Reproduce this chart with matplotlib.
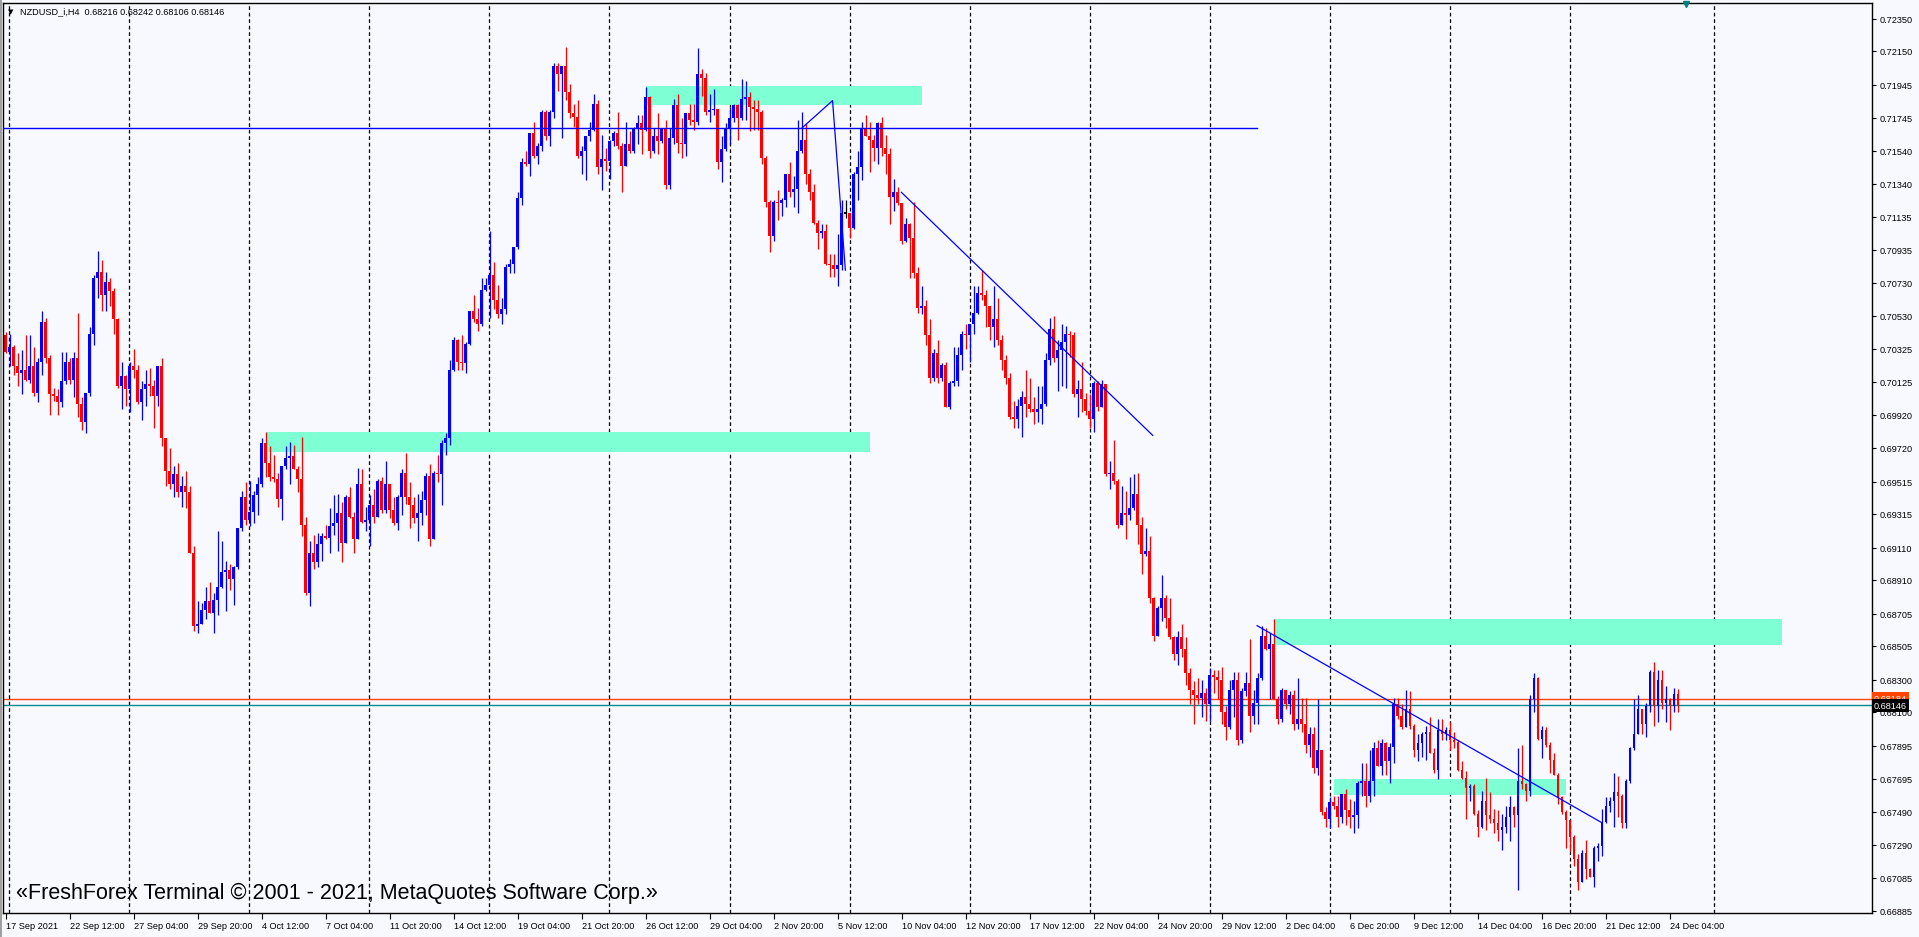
import numpy as np
import matplotlib.pyplot as plt
from matplotlib.transforms import blended_transform_factory

plt.rcParams['font.family'] = ['Liberation Sans', 'DejaVu Sans']

# NZDUSD H4 bars, values in pips (price * 10000) left to right
first_open = 7041
closes = [
    7031, 7034, 7022, 7018, 7020, 7014, 7022, 7006, 7025, 7049, 7027, 7005, 7004, 7000, 7013, 7025, 7014, 7027, 6999, 6988,
    7006, 7042, 7076, 7080, 7066, 7074, 7068, 7051, 7010, 7016, 7008, 7022, 7020, 7000, 7008, 7011, 7010, 7004, 7022, 6978,
    6958, 6950, 6956, 6945, 6949, 6945, 6908, 6863, 6864, 6873, 6878, 6871, 6879, 6887, 6896, 6897, 6892, 6899, 6923, 6942,
    6928, 6933, 6943, 6950, 6975, 6963, 6954, 6953, 6941, 6961, 6966, 6967, 6959, 6953, 6925, 6883, 6908, 6902, 6913, 6918,
    6917, 6924, 6926, 6932, 6914, 6942, 6930, 6916, 6950, 6927, 6928, 6937, 6930, 6952, 6934, 6950, 6934, 6926, 6942, 6957,
    6942, 6937, 6929, 6932, 6940, 6955, 6916, 6957, 6956, 6975, 6978, 7020, 7038, 7025, 7024, 7036, 7056, 7051, 7048, 7069,
    7072, 7078, 7063, 7054, 7057, 7083, 7085, 7095, 7125, 7147, 7146, 7165, 7151, 7157, 7178, 7163, 7178, 7206, 7201, 7206,
    7190, 7177, 7175, 7151, 7154, 7163, 7167, 7183, 7144, 7149, 7148, 7160, 7165, 7157, 7145, 7158, 7154, 7168, 7171, 7167,
    7187, 7154, 7163, 7160, 7168, 7133, 7162, 7182, 7159, 7158, 7177, 7173, 7172, 7201, 7199, 7178, 7179, 7180, 7147, 7155,
    7168, 7174, 7182, 7174, 7186, 7187, 7181, 7180, 7178, 7150, 7123, 7102, 7123, 7122, 7124, 7140, 7129, 7131, 7154, 7161,
    7140, 7129, 7110, 7104, 7105, 7085, 7084, 7082, 7084, 7116, 7116, 7107, 7140, 7144, 7168, 7163, 7161, 7156, 7171, 7156,
    7152, 7126, 7129, 7122, 7099, 7109, 7101, 7079, 7058, 7059, 7041, 7015, 7030, 7015, 7023, 6997, 7012, 7013, 7029, 7042,
    7041, 7048, 7055, 7067, 7066, 7059, 7046, 7051, 7038, 7026, 7015, 6991, 6990, 6998, 7003, 6999, 6996, 6994, 6996, 6999,
    7026, 7045, 7027, 7032, 7037, 7042, 7041, 7005, 7008, 7002, 6995, 6990, 7012, 6997, 7011, 6956, 6957, 6952, 6925, 6932,
    6931, 6935, 6944, 6925, 6907, 6909, 6880, 6857, 6874, 6880, 6868, 6856, 6846, 6856, 6849, 6834, 6824, 6821, 6819, 6822,
    6815, 6833, 6832, 6830, 6810, 6801, 6824, 6830, 6793, 6823, 6828, 6808, 6816, 6831, 6857, 6849, 6852, 6818, 6806, 6824,
    6815, 6821, 6803, 6806, 6803, 6790, 6797, 6776, 6787, 6749, 6745, 6755, 6753, 6746, 6760, 6750, 6746, 6747, 6767, 6768,
    6759, 6768, 6788, 6777, 6791, 6780, 6789, 6815, 6808, 6801, 6812, 6802, 6787, 6791, 6797, 6798, 6785, 6775, 6799, 6797,
    6799, 6793, 6792, 6775, 6770, 6764, 6765, 6748, 6740, 6756, 6747, 6745, 6742, 6738, 6740, 6746, 6752, 6747, 6768, 6766,
    6762, 6818, 6831, 6794, 6799, 6790, 6781, 6772, 6758, 6749, 6744, 6734, 6720, 6706, 6724, 6714, 6709, 6727, 6728, 6743,
    6753, 6756, 6761, 6759, 6742, 6768, 6788, 6797, 6812, 6803, 6814, 6835, 6814, 6830, 6816, 6818, 6814, 6821.6, 6814.6,
]
highs = [
    7043, 7042, 7035, 7030, 7032, 7041, 7041, 7034, 7027, 7056, 7052, 7029, 7009, 7008, 7031, 7031, 7027, 7031, 7055, 7003,
    7006, 7046, 7078, 7093, 7087, 7080, 7076, 7070, 7052, 7025, 7017, 7025, 7033, 7023, 7013, 7020, 7021, 7014, 7022, 7027,
    6978, 6972, 6961, 6963, 6955, 6958, 6949, 6912, 6878, 6877, 6887, 6890, 6883, 6921, 6915, 6903, 6901, 6900, 6923, 6946,
    6951, 6952, 6946, 6954, 6978, 6982, 6973, 6968, 6957, 6961, 6973, 6976, 6974, 6961, 6979, 6930, 6915, 6919, 6920, 6920,
    6925, 6935, 6943, 6944, 6939, 6943, 6948, 6933, 6960, 6959, 6936, 6943, 6947, 6953, 6954, 6964, 6950, 6942, 6943, 6959,
    6969, 6951, 6942, 6944, 6946, 6957, 6962, 6958, 6968, 6977, 6981, 7026, 7040, 7039, 7041, 7037, 7056, 7066, 7058, 7076,
    7076, 7105, 7086, 7072, 7064, 7085, 7088, 7095, 7129, 7150, 7154, 7165, 7172, 7159, 7179, 7179, 7179, 7208, 7208, 7206,
    7218, 7195, 7183, 7185, 7157, 7163, 7172, 7189, 7185, 7164, 7156, 7161, 7166, 7178, 7159, 7172, 7166, 7169, 7176, 7176,
    7193, 7188, 7168, 7177, 7168, 7173, 7168, 7186, 7189, 7174, 7177, 7183, 7183, 7217, 7204, 7202, 7189, 7192, 7180, 7163,
    7171, 7181, 7183, 7183, 7198, 7197, 7190, 7185, 7185, 7179, 7151, 7124, 7124, 7130, 7125, 7140, 7147, 7139, 7173, 7178,
    7171, 7143, 7134, 7112, 7109, 7109, 7091, 7091, 7103, 7124, 7124, 7113, 7141, 7154, 7172, 7176, 7172, 7164, 7172, 7175,
    7164, 7156, 7137, 7132, 7122, 7113, 7110, 7123, 7083, 7071, 7063, 7051, 7033, 7038, 7024, 7025, 7013, 7034, 7034, 7044,
    7048, 7048, 7071, 7071, 7081, 7069, 7059, 7071, 7064, 7041, 7029, 7018, 7001, 7002, 7007, 7020, 7015, 7003, 7010, 7010,
    7030, 7052, 7053, 7038, 7048, 7047, 7044, 7043, 7014, 7025, 7006, 7005, 7013, 7013, 7014, 7010, 6964, 6977, 6953, 6949,
    6946, 6954, 6956, 6957, 6930, 6923, 6918, 6881, 6875, 6894, 6882, 6880, 6857, 6860, 6864, 6856, 6837, 6829, 6831, 6830,
    6825, 6837, 6836, 6836, 6838, 6814, 6830, 6835, 6835, 6825, 6835, 6855, 6824, 6834, 6863, 6862, 6859, 6867, 6820, 6825,
    6824, 6823, 6824, 6831, 6819, 6819, 6801, 6801, 6818, 6787, 6752, 6758, 6759, 6759, 6760, 6763, 6757, 6756, 6768, 6779,
    6779, 6787, 6792, 6793, 6794, 6792, 6791, 6819, 6819, 6815, 6824, 6823, 6803, 6797, 6798, 6802, 6807, 6788, 6806, 6806,
    6801, 6804, 6798, 6793, 6780, 6774, 6766, 6766, 6750, 6762, 6770, 6761, 6751, 6750, 6748, 6753, 6759, 6753, 6788, 6790,
    6767, 6821, 6834, 6832, 6802, 6801, 6792, 6785, 6773, 6759, 6750, 6744, 6735, 6723, 6726, 6732, 6715, 6728, 6730, 6751,
    6758, 6758, 6773, 6771, 6760, 6769, 6789, 6818, 6821, 6809, 6816, 6836, 6841, 6836, 6836, 6826, 6819, 6825, 6824.2,
]
lows = [
    7030, 7022, 7017, 7010, 7005, 7013, 7012, 7004, 7000, 7017, 7024, 6992, 7001, 6992, 6997, 7011, 7011, 7003, 6991, 6983,
    6981, 7004, 7035, 7064, 7056, 7056, 7059, 7042, 7009, 6996, 6998, 6994, 7015, 6999, 6989, 6998, 7004, 6984, 6998, 6973,
    6949, 6947, 6942, 6942, 6936, 6935, 6908, 6860, 6859, 6864, 6867, 6871, 6859, 6870, 6886, 6872, 6885, 6876, 6898, 6921,
    6925, 6924, 6926, 6931, 6948, 6954, 6952, 6951, 6936, 6928, 6959, 6950, 6959, 6945, 6918, 6882, 6875, 6898, 6899, 6903,
    6916, 6908, 6919, 6909, 6902, 6914, 6929, 6908, 6916, 6926, 6921, 6912, 6926, 6930, 6932, 6932, 6929, 6925, 6922, 6931,
    6938, 6923, 6926, 6915, 6925, 6931, 6912, 6916, 6951, 6937, 6968, 6974, 7019, 7020, 7020, 7018, 7035, 7049, 7044, 7047,
    7068, 7052, 7057, 7052, 7048, 7054, 7079, 7079, 7094, 7121, 7145, 7139, 7150, 7146, 7154, 7161, 7157, 7174, 7191, 7162,
    7185, 7174, 7169, 7150, 7140, 7136, 7160, 7166, 7140, 7130, 7142, 7137, 7157, 7155, 7129, 7145, 7153, 7153, 7158, 7152,
    7166, 7150, 7153, 7152, 7159, 7131, 7131, 7158, 7153, 7150, 7151, 7170, 7167, 7170, 7188, 7176, 7172, 7176, 7143, 7135,
    7154, 7158, 7172, 7161, 7173, 7173, 7166, 7167, 7167, 7146, 7120, 7092, 7099, 7112, 7114, 7120, 7126, 7120, 7116, 7153,
    7134, 7124, 7109, 7094, 7101, 7084, 7077, 7077, 7071, 7081, 7113, 7101, 7106, 7124, 7136, 7163, 7141, 7148, 7146, 7151,
    7140, 7109, 7117, 7121, 7097, 7098, 7076, 7076, 7055, 7054, 7035, 7012, 7013, 7012, 7013, 6997, 6996, 7010, 7010, 7020,
    7033, 7025, 7042, 7054, 7063, 7046, 7038, 7034, 7035, 7020, 7011, 6990, 6984, 6984, 6979, 6991, 6994, 6987, 6988, 6987,
    6998, 7023, 7025, 7007, 7010, 7009, 7028, 7003, 6991, 6994, 6992, 6984, 6982, 6995, 6997, 6955, 6947, 6950, 6923, 6925,
    6916, 6928, 6934, 6913, 6895, 6906, 6877, 6854, 6857, 6866, 6862, 6855, 6842, 6839, 6844, 6827, 6815, 6803, 6815, 6807,
    6805, 6805, 6822, 6818, 6803, 6793, 6800, 6807, 6790, 6791, 6820, 6798, 6803, 6803, 6830, 6848, 6818, 6818, 6803, 6804,
    6812, 6809, 6799, 6800, 6798, 6785, 6783, 6773, 6772, 6747, 6740, 6739, 6751, 6740, 6742, 6741, 6739, 6736, 6739, 6759,
    6752, 6755, 6759, 6777, 6772, 6772, 6767, 6779, 6806, 6800, 6801, 6800, 6783, 6780, 6783, 6781, 6785, 6773, 6769, 6793,
    6793, 6787, 6788, 6774, 6769, 6745, 6756, 6747, 6734, 6739, 6738, 6742, 6736, 6731, 6726, 6736, 6731, 6740, 6701, 6763,
    6756, 6759, 6810, 6793, 6782, 6789, 6773, 6772, 6754, 6748, 6727, 6725, 6716, 6701, 6706, 6708, 6709, 6703, 6719, 6722,
    6742, 6749, 6740, 6746, 6739, 6739, 6767, 6787, 6797, 6797, 6795, 6810, 6802, 6804, 6812, 6804, 6799, 6810, 6810.6,
]

# x axis labels, one every 16 bars
time_labels = ["17 Sep 2021", "22 Sep 12:00", "27 Sep 04:00", "29 Sep 20:00", "4 Oct 12:00", "7 Oct 04:00",
               "11 Oct 20:00", "14 Oct 12:00", "19 Oct 04:00", "21 Oct 20:00", "26 Oct 12:00", "29 Oct 04:00",
               "2 Nov 20:00", "5 Nov 12:00", "10 Nov 04:00", "12 Nov 20:00", "17 Nov 12:00", "22 Nov 04:00",
               "24 Nov 20:00", "29 Nov 12:00", "2 Dec 04:00", "6 Dec 20:00", "9 Dec 12:00", "14 Dec 04:00",
               "16 Dec 20:00", "21 Dec 12:00", "24 Dec 04:00"]
price_ticks = [0.72350, 0.72150, 0.71945, 0.71745, 0.71540, 0.71340, 0.71135, 0.70935, 0.70730, 0.70530,
               0.70325, 0.70125, 0.69920, 0.69720, 0.69515, 0.69315, 0.69110, 0.68910, 0.68705, 0.68505,
               0.68300, 0.68100, 0.67895, 0.67695, 0.67490, 0.67290, 0.67085, 0.66885]

# drawn objects: zones (bar from, bar to, price low, price high), lines (bar, price)
zone_start = [65, 160, 317, 332]
zone_end = [216, 229, 444, 390]
zone_low = [0.69699, 0.71825, 0.68514, 0.67595]
zone_high = [0.69818, 0.71937, 0.68673, 0.67692]
hline_price = 0.71680
hline_end = 312.8
peak_bars = [199.0, 206.7, 209.9]
peak_prices = [0.71680, 0.71849, 0.70810]
trend1_bars = [223.9, 286.7]
trend1_prices = [0.71287, 0.69798]
trend2_bars = [312.8, 398.8]
trend2_prices = [0.68632, 0.67427]
ask_price = 0.68184
bid_price = 0.68146
week_bars = [0.95 + 30 * i for i in range(14)] + [427.05]

bg = '#F8F8FF'
W, H = 1919, 937
fig = plt.figure(figsize=((W + 0.5) / 100, (H + 0.5) / 100), dpi=100, facecolor=bg)
ax = fig.add_axes([3 / W, 24 / H, 1869 / W, 910 / H], facecolor=bg)

c = np.array(closes, dtype=float) / 1e4
hi = np.array(highs, dtype=float) / 1e4
lo = np.array(lows, dtype=float) / 1e4
o = np.r_[first_open / 1e4, c[:-1]]
hi = np.maximum(hi, np.maximum(o, c))
lo = np.minimum(lo, np.minimum(o, c))
x = np.arange(len(c))

cols = np.where(c > o, '#0000FF', np.where(c < o, '#FF0000', '#000000'))
min_h = 0.00007
body_h = np.maximum(np.abs(c - o), min_h)
body_b = np.where(np.abs(c - o) < min_h, (o + c) / 2 - min_h / 2, np.minimum(o, c))

# weekly dashed grid
for b in week_bars:
    ax.axvline(b, color='black', lw=0.9, ls=(0, (3, 2.2)), zorder=0.5)

# zones
for xs, xe, pl, ph in zip(zone_start, zone_end, zone_low, zone_high):
    ax.fill_between([xs, xe], pl, ph, color='#7FFFD4', lw=0, zorder=1)

# ask / bid lines
ax.axhline(ask_price, color='#FF4500', lw=1, zorder=1.2)
ax.axhline(bid_price, color='#008B8B', lw=1, zorder=1.2)

ax.vlines(x, lo, hi, colors=cols, lw=0.9, zorder=2)
ax.bar(x, body_h, bottom=body_b, width=0.72, color=cols, lw=0, zorder=2.1)

# drawn lines
ax.plot([-1, hline_end], [hline_price, hline_price], color='#0000FF', lw=1, zorder=3)
ax.plot(peak_bars, peak_prices, color='#0000FF', lw=0.9, zorder=3)
ax.plot(trend1_bars, trend1_prices, color='#0000FF', lw=0.9, zorder=3)
ax.plot(trend2_bars, trend2_prices, color='#0000FF', lw=0.9, zorder=3)

ax.set_xlim(-0.625, 466.6)
ax.set_ylim(0.668715, 0.72450)

for s in ax.spines.values():
    s.set_color('black')
    s.set_linewidth(1)

ax.yaxis.tick_right()
ax.set_yticks(price_ticks)
ax.set_yticklabels([f'{p:.5f}' for p in price_ticks])
ax.tick_params(axis='y', length=3, width=0.8, pad=2, labelsize=6.6, colors='black')

ax.set_xticks([16 * i for i in range(len(time_labels))])
ax.set_xticklabels(time_labels)
for t in ax.get_xticklabels():
    t.set_ha('left')
ax.tick_params(axis='x', length=4, width=0.8, pad=2, labelsize=6.6, colors='black')

tr = blended_transform_factory(ax.transAxes, ax.transData)
ax.text(1.0008, ask_price, '0.68184', transform=tr, fontsize=6.6, color='white', va='center', ha='left',
        bbox=dict(boxstyle='square,pad=0.2', fc='#FF4500', ec='none'), clip_on=False, zorder=5)
ax.text(1.0008, bid_price - 0.00004, '0.68146', transform=tr, fontsize=6.6, color='white', va='center', ha='left',
        bbox=dict(boxstyle='square,pad=0.2', fc='black', ec='none'), clip_on=False, zorder=6)

# chart shift marker
ax.plot([419.9], [0.9985], marker='v', ms=5, color='#008080',
        transform=blended_transform_factory(ax.transData, ax.transAxes), clip_on=False, zorder=6)

# window border on the left
fig.add_artist(plt.Rectangle((0, 0), 2 / W, 1, transform=fig.transFigure, color='#A0A0A0', lw=0))

fig.text(8 / W, 1 - 12 / H, '\u25bc', fontsize=5, va='center', ha='left', family=['DejaVu Sans'])
fig.text(20 / W, 1 - 12 / H, 'NZDUSD_i,H4  0.68216 0.68242 0.68106 0.68146', fontsize=6.6, va='center', ha='left')
fig.text(16 / W, 1 - 893 / H, '\u00abFreshForex Terminal \u00a9 2001 - 2021, MetaQuotes Software Corp.\u00bb',
         fontsize=15.5, va='center', ha='left')

fig.savefig('out.png', dpi=100, facecolor=bg)
